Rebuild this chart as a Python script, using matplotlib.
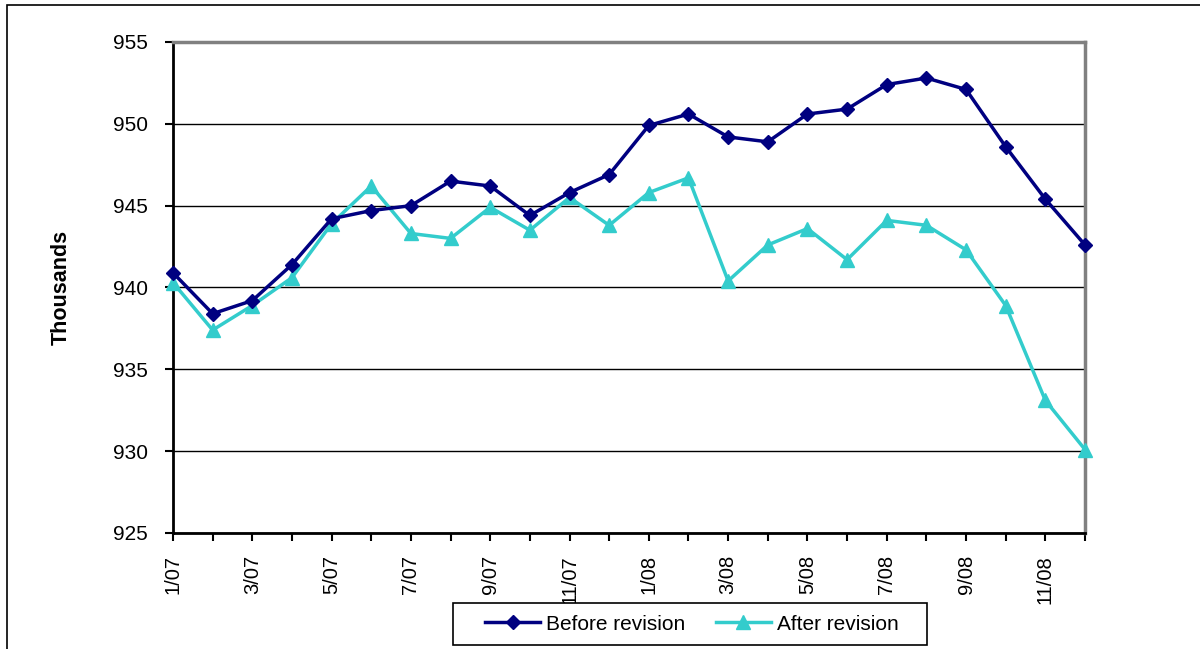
import matplotlib
matplotlib.use("Agg")
import matplotlib.pyplot as plt
from matplotlib.patches import Rectangle

plt.rcParams['font.family'] = ['Liberation Sans', 'DejaVu Sans']

months = ["1/07", "2/07", "3/07", "4/07", "5/07", "6/07", "7/07", "8/07", "9/07", "10/07", "11/07", "12/07",
          "1/08", "2/08", "3/08", "4/08", "5/08", "6/08", "7/08", "8/08", "9/08", "10/08", "11/08", "12/08"]
before = [940.9, 938.4, 939.2, 941.4, 944.2, 944.7, 945.0, 946.5, 946.2, 944.4, 945.8, 946.9,
          949.9, 950.6, 949.2, 948.9, 950.6, 950.9, 952.4, 952.8, 952.1, 948.6, 945.4, 942.6]
after = [940.3, 937.4, 938.9, 940.6, 943.9, 946.2, 943.3, 943.0, 944.9, 943.5, 945.5, 943.8,
         945.8, 946.7, 940.4, 942.6, 943.6, 941.7, 944.1, 943.8, 942.3, 938.9, 933.1, 930.1]
yticks = [925, 930, 935, 940, 945, 950, 955]

W, H = 1200, 649
fig = plt.figure(figsize=(W / 100, H / 100), dpi=100)
# outer chart frame (cropped at right and bottom)
fig.patches.append(Rectangle((7 / W, -0.1), 1.2, (H - 5) / H + 0.1, transform=fig.transFigure,
                             fill=False, edgecolor='black', linewidth=1.2))

ax = fig.add_axes([173 / W, 1 - 533 / H, (1085 - 173) / W, (533 - 42) / H])
x = list(range(len(months)))
ax.plot(x, before, color='#000080', marker='D', markersize=7.5, linewidth=2.5,
        label='Before revision', clip_on=False, zorder=4)
ax.plot(x, after, color='#33CCCC', marker='^', markersize=10, linewidth=2.5,
        label='After revision', clip_on=False, zorder=3)

ax.set_xlim(0, len(months) - 1)
ax.set_ylim(925, 955)
ax.set_yticks(yticks)
ax.set_yticklabels([str(v) for v in yticks], fontsize=15)
ax.set_xticks(x)
ax.set_xticklabels([m if i % 2 == 0 else "" for i, m in enumerate(months)], rotation=90, fontsize=14.5)
ax.tick_params(axis='both', direction='out', length=6, width=1.5, color='black')
ax.tick_params(axis='y', pad=12)
ax.tick_params(axis='x', pad=10)
ax.yaxis.grid(True, color='black', linewidth=1)
ax.set_axisbelow(True)

for s in ['top', 'right']:
    ax.spines[s].set_color('#808080')
    ax.spines[s].set_linewidth(2.5)
for s in ['left', 'bottom']:
    ax.spines[s].set_color('black')
    ax.spines[s].set_linewidth(2)

ax.set_ylabel('Thousands', fontsize=15.5, fontweight='bold', labelpad=30)

# legend box
fig.patches.append(Rectangle((453 / W, 1 - 645 / H), (927 - 453) / W, (645 - 603) / H,
                             transform=fig.transFigure, facecolor='white', edgecolor='black',
                             linewidth=1.2, zorder=4))
leg = fig.legend(loc='center', bbox_to_anchor=(692 / W, 1 - 624 / H), ncol=2, fontsize=15,
                 frameon=False, handlelength=2.6, handletextpad=0.3, columnspacing=1.5)
leg.set_zorder(5)

fig.savefig('out.png', dpi=100)
